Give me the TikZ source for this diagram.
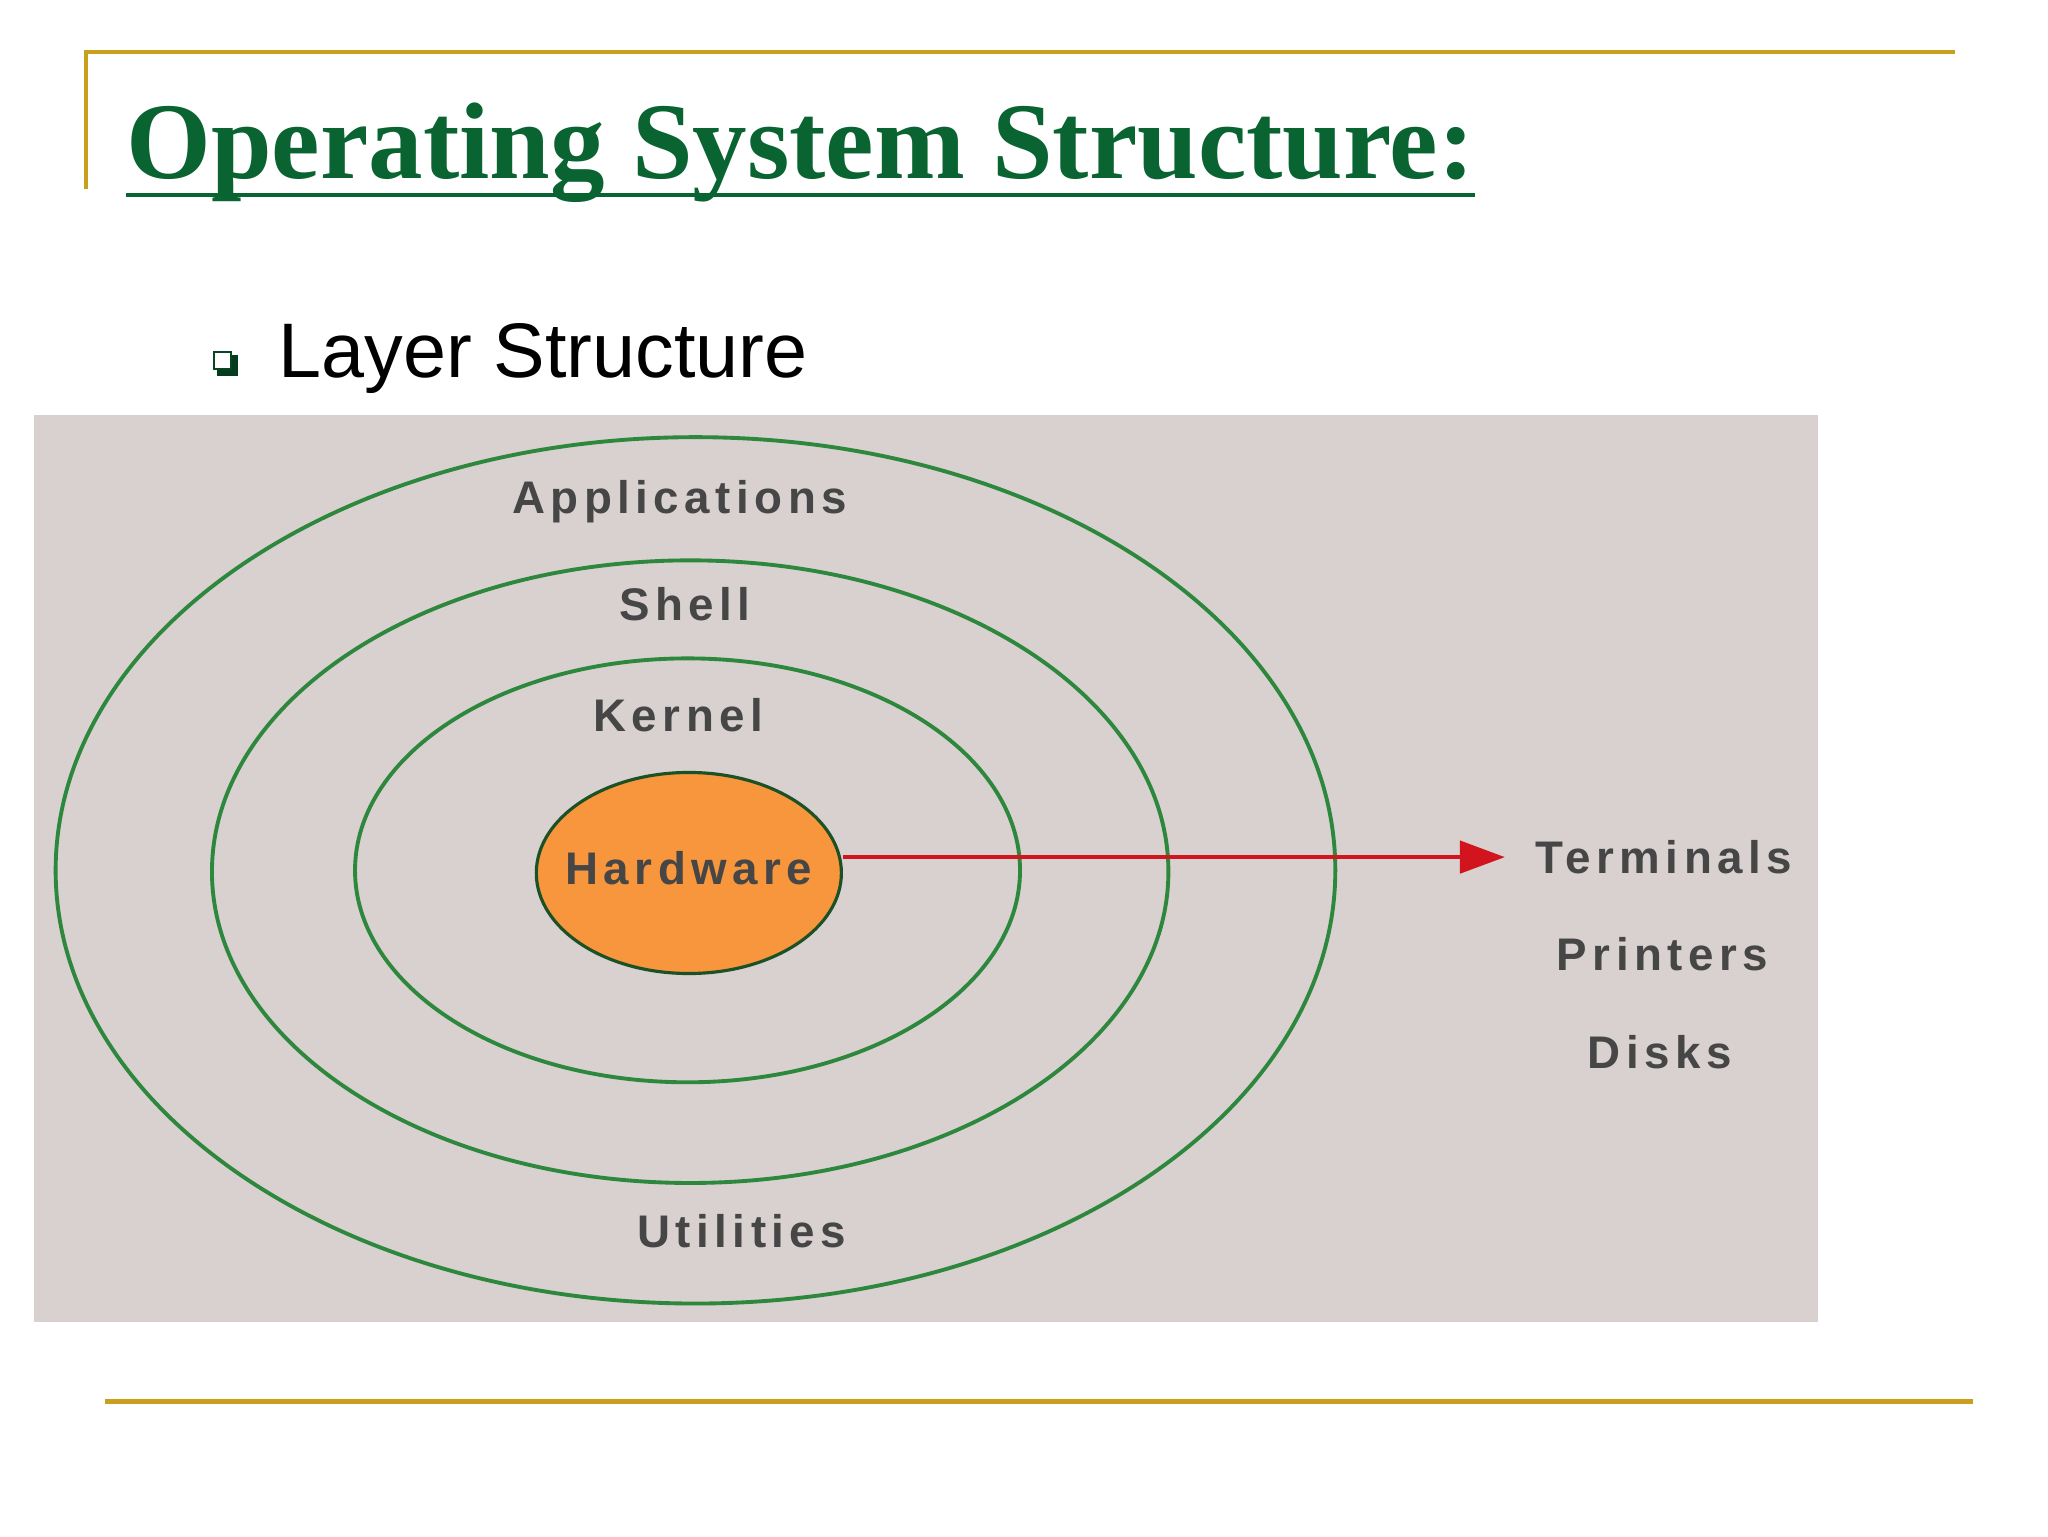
\documentclass[tikz,border=0pt]{standalone}
\usepackage{fontspec}
\setmainfont{Liberation Serif}
\setsansfont{Liberation Sans}
\newfontfamily\labfont[LetterSpace=12]{Liberation Sans}
\usetikzlibrary{shapes.geometric,arrows.meta}
\definecolor{gold}{RGB}{200,160,30}
\definecolor{ttl}{RGB}{10,100,50}
\definecolor{bg}{RGB}{216,209,208}
\definecolor{ring}{RGB}{45,135,60}
\definecolor{hw}{RGB}{247,150,60}
\definecolor{lbl}{RGB}{70,70,70}
\definecolor{arr}{RGB}{210,20,30}
\tikzset{
  lab/.style={font=\labfont\bfseries\fontsize{13}{15}\selectfont, text=lbl, inner sep=0pt},
  ringline/.style={draw=ring, line width=1.1pt},
  goldline/.style={draw=gold, line width=1.2pt}
}
\begin{document}
\begin{tikzpicture}[x=0.01325cm,y=-0.01325cm]
\useasboundingbox (0,0) rectangle (1546,1160);
\fill[white] (0,0) rectangle (1546,1160);
\draw[goldline] (65,143) -- (65,39) -- (1476,39);
\draw[goldline] (79,1058) -- (1489,1058);
\node[anchor=base west, inner sep=0pt, text=ttl, font=\bfseries\fontsize{31}{36}\selectfont] (title) at (95,135) {Operating System Structure:};
\draw[ttl, line width=1.1pt] (title.south west |- 0,147) -- (title.south east |- 0,147);
\fill[ttl!60!black] (164,268) rectangle (180,284);
\node[draw=ttl!70!black, fill=white, minimum size=0.17cm, inner sep=0pt, line width=0.6pt] (bul) at (168,272) {};
\node[anchor=base west, inner sep=0pt, font=\sffamily\fontsize{22}{26}\selectfont] (sub) at (210,285) {Layer Structure};
\fill[bg] (26,313) rectangle (1372,998);
\draw[ringline] (525,657) ellipse [x radius=483, y radius=327];
\draw[ringline] (521,658) ellipse [x radius=361, y radius=235];
\draw[ringline] (519,657) ellipse [x radius=251, y radius=160];
\node[ellipse, draw=ring!60!black, fill=hw, line width=0.9pt, minimum width=3.05cm, minimum height=2.01cm, inner sep=0pt] (hwn) at (520,659) {};
\node[lab] (hwl) at (520,655) {Hardware};
\node[lab] (app) at (513,379) {Applications};
\node[lab] (sh) at (517,456) {Shell};
\node[lab] (ker) at (512,540) {Kernel};
\node[lab] (ut) at (560,929) {Utilities};
\node[lab] (term) at (1256,647) {Terminals};
\node[lab] (pr) at (1255,720) {Printers};
\node[lab] (dk) at (1253,794) {Disks};
\draw[arr, line width=1.3pt, -{Triangle[length=0.45cm,width=0.32cm]}, shorten >=0.3cm] (hwn.east |- term.west) -- (term.west);
\end{tikzpicture}
\end{document}
